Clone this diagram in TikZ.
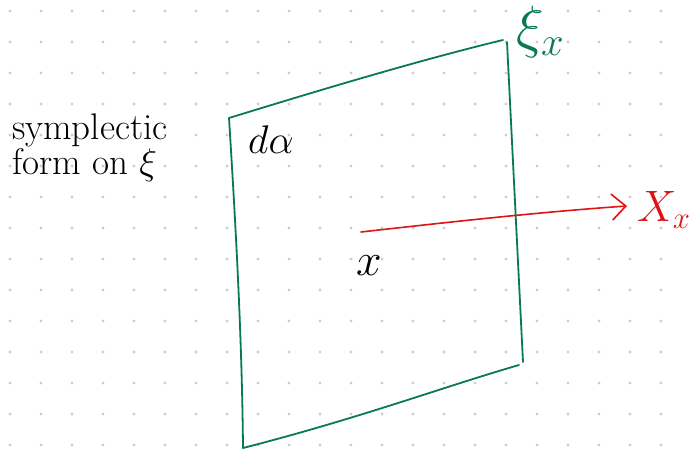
\documentclass[tikz,border=0pt]{standalone}
\usepackage{fix-cm}
\usepackage{amsmath,amssymb}
\usepackage{tikz}
\usetikzlibrary{arrows.meta,positioning}
\definecolor{planegreen}{RGB}{8,120,86}
\definecolor{fieldred}{RGB}{220,20,20}
\definecolor{dotgrey}{RGB}{205,205,205}

\begin{document}
\begin{tikzpicture}[x=1pt,y=-1pt,
  plane/.style={draw=planegreen,line width=1.8pt,line join=round,line cap=round},
  field/.style={fieldred,line width=1.6pt,line cap=round,-{Straight Barb[length=14pt,width=26pt,line width=1.6pt]}},
  hand/.style={inner sep=0pt,font=\fontsize{40}{40}\selectfont}]
\useasboundingbox (0,0) rectangle (689,451);
% dotted paper
\foreach \i in {0,...,21}{
  \foreach \j in {0,...,14}{
    \fill[dotgrey] (10+31*\i,11+31*\j) circle (1.6pt);
  }
}
% the contact plane at x
\coordinate (tl) at (229,118);
\coordinate (tr) at (503,40);
\coordinate (trr) at (507,42);
\coordinate (br) at (523,362);
\coordinate (bl) at (243,448);
\draw[plane] (trr) -- (br);
\draw[plane] (tr) .. controls (420,60) and (320,90) .. (tl)
  .. controls (236,230) and (242,340) .. (bl)
  .. controls (360,418) and (440,388) .. (519,365);
% labels
\node[hand,planegreen,anchor=north west,font=\fontsize{58}{58}\selectfont] (xi) at (516,6) {$\xi_x$};
\node[hand,anchor=west] (dalpha) at (248,140) {$d\alpha$};
\node[hand,anchor=west,font=\fontsize{46}{46}\selectfont] (xlab) at (356,266) {$x$};
\node[hand,align=left,anchor=north west,font=\fontsize{37}{31}\selectfont] (sform) at (12,114) {symplectic\\form on $\xi$};
% the vector field
\coordinate (xpt) at (361,232);
\node[hand,fieldred,anchor=west,font=\fontsize{44}{44}\selectfont] (Xlab) at (637,210) {$X_x$};
\draw[field] (xpt) .. controls (450,222) and (540,212) .. ([xshift=-10pt,yshift=4pt]Xlab.west);
\end{tikzpicture}
\end{document}
